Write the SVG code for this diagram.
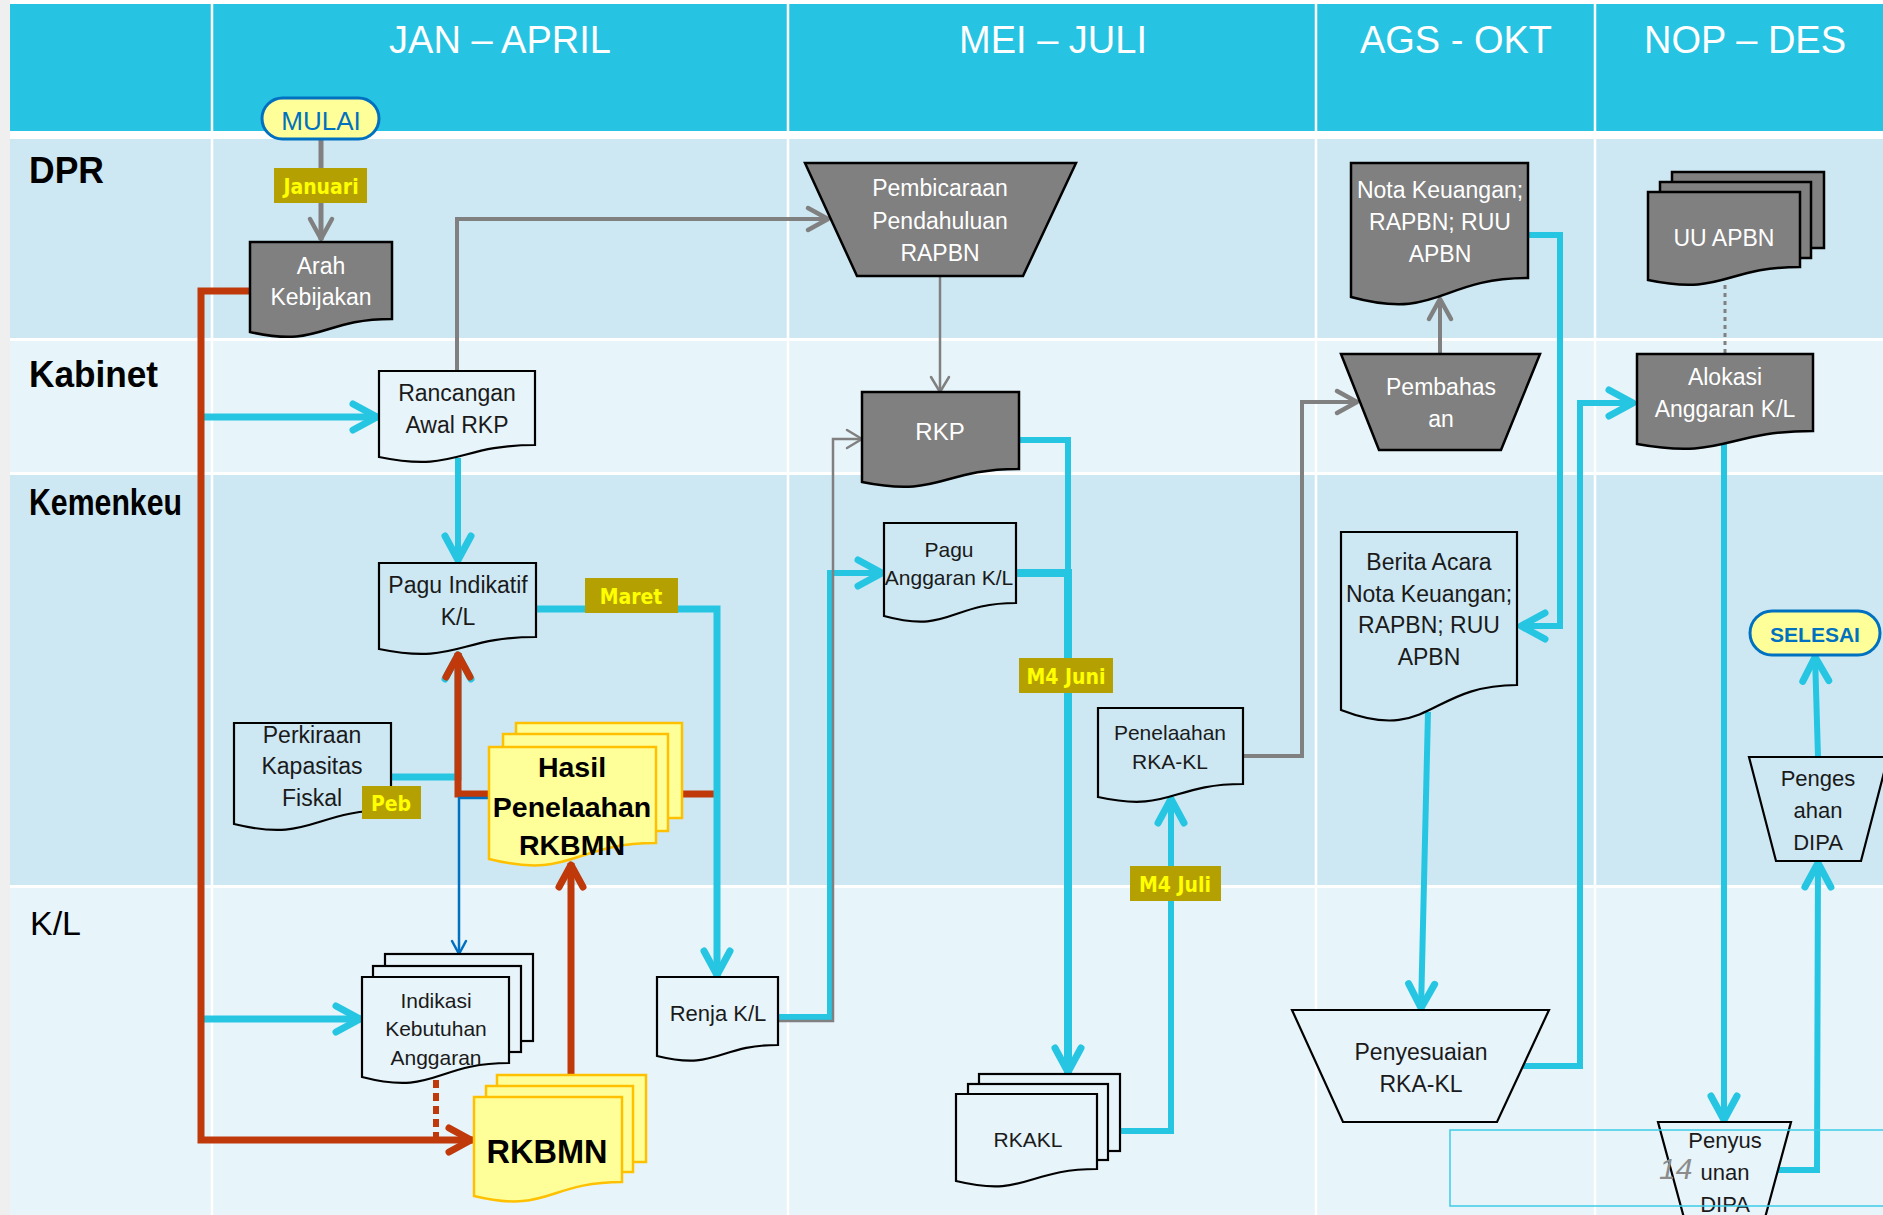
<svg xmlns="http://www.w3.org/2000/svg" width="1883" height="1215" viewBox="0 0 1883 1215">
<style>
.t{font-family:"Liberation Sans",Arial,sans-serif;font-size:23px;fill:#1a1a1a;text-anchor:middle}
.w{fill:#ffffff}
.s21{font-size:21px}
.s22{font-size:22px}
.hdr{font-family:"Liberation Sans",Arial,sans-serif;font-size:38px;fill:#ffffff;text-anchor:middle}
.row{font-family:"Liberation Sans",Arial,sans-serif;font-size:36px;font-weight:bold;fill:#000}
.lb{font-family:"Liberation Sans Narrow","DejaVu Sans Condensed","Liberation Sans",sans-serif;font-size:21px;font-weight:bold;fill:#FFFF00;text-anchor:middle}
.lbox{fill:#B4A000}
.doc{stroke:#000;stroke-width:2.2}
.gry{fill:#808080;stroke:#000;stroke-width:2.5}
.yel{fill:#FFFF99;stroke:#FFC000;stroke-width:2.5}
.fa{fill:#CDE8F3}
.fb{fill:#E7F4FA}
.cy{fill:none;stroke:#26C6E3;stroke-width:6}
.rd{fill:none;stroke:#C0390B;stroke-width:7}
.gl{fill:none;stroke:#808080;stroke-width:4}
.gt{fill:none;stroke:#808080;stroke-width:2.5}
.term{fill:#FFFF99;stroke:#0070C0;stroke-width:3}
.bt{font-family:"Liberation Sans Narrow","Liberation Sans",sans-serif;fill:#0070C0;text-anchor:middle}
</style>
<defs>
<marker id="ac" markerUnits="userSpaceOnUse" viewBox="-30 -20 40 40" markerWidth="40" markerHeight="40" refX="0" refY="0" orient="auto" style="overflow:visible"><path d="M-26,-13 L-2,0 L-26,13" fill="none" stroke="#26C6E3" stroke-width="7" stroke-linecap="round" stroke-linejoin="round"/></marker>
<marker id="ar" markerUnits="userSpaceOnUse" viewBox="-30 -20 40 40" markerWidth="40" markerHeight="40" refX="0" refY="0" orient="auto" style="overflow:visible"><path d="M-24,-12 L-2,0 L-24,12" fill="none" stroke="#C0390B" stroke-width="7" stroke-linecap="round" stroke-linejoin="round"/></marker>
<marker id="ag" markerUnits="userSpaceOnUse" viewBox="-30 -20 40 40" markerWidth="40" markerHeight="40" refX="0" refY="0" orient="auto" style="overflow:visible"><path d="M-21,-11 L-1,0 L-21,11" fill="none" stroke="#808080" stroke-width="4.5" stroke-linecap="round" stroke-linejoin="round"/></marker>
<marker id="agt" markerUnits="userSpaceOnUse" viewBox="-30 -20 40 40" markerWidth="40" markerHeight="40" refX="0" refY="0" orient="auto" style="overflow:visible"><path d="M-15,-9 L0,0 L-15,9" fill="none" stroke="#808080" stroke-width="2.5" stroke-linecap="round" stroke-linejoin="round"/></marker>
<marker id="ab" markerUnits="userSpaceOnUse" viewBox="-30 -20 40 40" markerWidth="40" markerHeight="40" refX="0" refY="0" orient="auto" style="overflow:visible"><path d="M-13,-7 L0,0 L-13,7" fill="none" stroke="#0070C0" stroke-width="2.5" stroke-linecap="round" stroke-linejoin="round"/></marker>
</defs>

<g id="lanes">
<rect x="0" y="0" width="1883" height="1215" fill="#ffffff"/>
<rect x="0" y="0" width="10" height="1215" fill="#EFEFEF"/>
<rect x="10" y="4" width="1873" height="127" fill="#26C4E2"/>
<rect x="10" y="139" width="1873" height="199" fill="#CDE8F3"/>
<rect x="10" y="341" width="1873" height="131" fill="#E7F4FA"/>
<rect x="10" y="475" width="1873" height="410" fill="#CDE8F3"/>
<rect x="10" y="888" width="1873" height="327" fill="#E7F4FA"/>
<g stroke="#ffffff" stroke-width="2.5">
<line x1="212" y1="4" x2="212" y2="1215"/>
<line x1="788" y1="4" x2="788" y2="1215"/>
<line x1="1316" y1="4" x2="1316" y2="1215"/>
<line x1="1595" y1="4" x2="1595" y2="1215"/>
</g>
<text class="hdr" x="500" y="53">JAN – APRIL</text>
<text class="hdr" x="1053" y="53">MEI – JULI</text>
<text class="hdr" x="1456" y="53">AGS - OKT</text>
<text class="hdr" x="1745" y="53">NOP – DES</text>
<text class="row" x="29" y="183" textLength="75" lengthAdjust="spacingAndGlyphs">DPR</text>
<text class="row" x="29" y="387" textLength="129" lengthAdjust="spacingAndGlyphs">Kabinet</text>
<text class="row" x="29" y="515" textLength="153" lengthAdjust="spacingAndGlyphs">Kemenkeu</text>
<text class="row" x="30" y="935" style="font-weight:normal;font-size:34px">K/L</text>
</g>

<g id="connectors">
<path class="gl" d="M321,139 V240" style="stroke-width:5" marker-end="url(#ag)"/>
<path class="cy" d="M201,417 H379" style="stroke-width:7" marker-end="url(#ac)"/>
<path class="cy" d="M201,1019 H362" style="stroke-width:7" marker-end="url(#ac)"/>
<path class="rd" d="M250,291 H201 V1140 H473" marker-end="url(#ar)"/>
<path class="gl" d="M457,371 V219 H829" marker-end="url(#ag)"/>
<path class="cy" d="M458,458 V562" marker-end="url(#ac)"/>
<path class="cy" d="M391,777 H458 V653" style="stroke-width:7" marker-end="url(#ac)"/>
<path class="rd" d="M714,794 H458 V653" marker-end="url(#ar)"/>
<path d="M490,798 H459 V954" fill="none" stroke="#0070C0" stroke-width="2.5" marker-end="url(#ab)"/>
<path class="cy" d="M536,609 H717 V977" style="stroke-width:7" marker-end="url(#ac)"/>
<path class="rd" d="M571,1075 V863" marker-end="url(#ar)"/>
<path class="rd" d="M436,1080 V1140" style="stroke-width:6;stroke-dasharray:8 5"/>
<path class="cy" d="M778,1017 H830 V573 H884" marker-end="url(#ac)"/>
<path class="gt" d="M778,1021 H833 V439 H862" marker-end="url(#agt)"/>
<path class="gt" d="M940,276 V392" marker-end="url(#agt)"/>
<path class="cy" d="M1019,440 H1068 V573"/>
<path class="cy" d="M1016,573 H1068 V1074" style="stroke-width:8" marker-end="url(#ac)"/>
<path class="cy" d="M1120,1131 H1171 V797" marker-end="url(#ac)"/>
<path class="gl" d="M1243,756 H1302 V402 H1358" marker-end="url(#ag)"/>
<path class="gl" d="M1440,354 V298" marker-end="url(#ag)"/>
<path class="cy" d="M1528,235 H1560 V626 H1519" marker-end="url(#ac)"/>
<path class="cy" d="M1428,712 L1421,1010" marker-end="url(#ac)"/>
<path class="cy" d="M1523,1066 H1580 V403 H1635" marker-end="url(#ac)"/>
<path d="M1725,285 V354" fill="none" stroke="#808080" stroke-width="3" stroke-dasharray="4 4"/>
<path class="cy" d="M1724,444 V1122" marker-end="url(#ac)"/>
<path class="cy" d="M1777,1170 H1817 L1818,861" marker-end="url(#ac)"/>
<path class="cy" d="M1818,757 L1815,655" marker-end="url(#ac)"/>
</g>

<g id="labels">
<rect class="lbox" x="274" y="168" width="93" height="35"/><text class="lb" x="321" y="194">Januari</text>
<rect class="lbox" x="585" y="578" width="93" height="35"/><text class="lb" x="631" y="604">Maret</text>
<rect class="lbox" x="1019" y="658" width="94" height="35"/><text class="lb" x="1066" y="684">M4 Juni</text>
<rect class="lbox" x="1130" y="866" width="91" height="35"/><text class="lb" x="1175" y="892">M4 Juli</text>
</g>

<g id="mulai">
<rect class="term" x="262" y="98" width="117" height="41" rx="20.5"/>
<text class="bt" x="321" y="130" style="font-family:'Liberation Sans',sans-serif;font-size:26px">MULAI</text>
</g>
<g id="arah-kebijakan">
<path class="gry" d="M250,242 H392 V319 C321,319 321,348 250,332 Z"/>
<text class="t w" x="321" y="274">Arah</text><text class="t w" x="321" y="305">Kebijakan</text>
</g>
<g id="rancangan-awal-rkp">
<path class="doc fb" d="M379,371 H535 V445 C457,445 457,473 379,457 Z"/>
<text class="t" x="457" y="401">Rancangan</text><text class="t" x="457" y="433">Awal RKP</text>
</g>
<g id="pagu-indikatif">
<path class="doc fa" d="M379,563 H536 V637 C457.5,637 457.5,665 379,649 Z"/>
<text class="t" x="458" y="593">Pagu Indikatif</text><text class="t" x="458" y="625">K/L</text>
</g>
<g id="perkiraan-kapasitas-fiskal">
<path class="doc fa" d="M234,723 H391 V810 C312.5,810 312.5,843 234,824 Z"/>
<text class="t" x="312" y="743">Perkiraan</text><text class="t" x="312" y="774">Kapasitas</text><text class="t" x="312" y="806">Fiskal</text>
<rect class="lbox" x="362" y="786" width="59" height="33"/><text class="lb" x="391" y="811">Peb</text>
</g>
<g id="hasil-penelaahan-rkbmn">
<rect class="yel" x="516" y="723" width="166" height="95"/>
<rect class="yel" x="503" y="734" width="165" height="97"/>
<path class="yel" d="M489,747 H656 V843 C572.5,843 572.5,880 489,859 Z"/>
<g style="font-family:'Liberation Sans',Arial,sans-serif;font-weight:bold;font-size:28.5px;fill:#000;text-anchor:middle">
<text x="572" y="777">Hasil</text><text x="572" y="817">Penelaahan</text><text x="572" y="855">RKBMN</text>
</g>
</g>
<g id="indikasi-kebutuhan-anggaran">
<rect class="doc fb" x="385" y="954" width="148" height="87"/>
<rect class="doc fb" x="373" y="966" width="148" height="86"/>
<path class="doc fb" d="M362,977 H509 V1063 C435.5,1063 435.5,1096 362,1077 Z"/>
<text class="t s21" x="436" y="1008">Indikasi</text><text class="t s21" x="436" y="1036">Kebutuhan</text><text class="t s21" x="436" y="1065">Anggaran</text>
</g>
<g id="rkbmn">
<rect class="yel" x="497" y="1075" width="149" height="87"/>
<rect class="yel" x="486" y="1086" width="147" height="86"/>
<path class="yel" d="M474,1097 H622 V1182 C548,1182 548,1214 474,1196 Z"/>
<text x="547" y="1163" style="font-family:'Liberation Sans',Arial,sans-serif;font-weight:bold;font-size:32.5px;fill:#000;text-anchor:middle">RKBMN</text>
</g>
<g id="renja-kl">
<path class="doc fb" d="M657,977 H778 V1045 C717.5,1045 717.5,1071 657,1056 Z"/>
<text class="t s22" x="718" y="1021">Renja K/L</text>
</g>
<g id="pembicaraan-pendahuluan">
<path class="gry" d="M805,163 H1076 L1023,276 H857 Z"/>
<text class="t w" x="940" y="196">Pembicaraan</text><text class="t w" x="940" y="229">Pendahuluan</text><text class="t w" x="940" y="261">RAPBN</text>
</g>
<g id="rkp">
<path class="gry" d="M862,392 H1019 V469 C940.5,469 940.5,498 862,482 Z"/>
<text class="t w" x="940" y="440" style="font-size:24px">RKP</text>
</g>
<g id="pagu-anggaran">
<path class="doc fa" d="M884,523 H1016 V603 C950,603 950,634 884,616 Z"/>
<text class="t s21" x="949" y="557">Pagu</text><text class="t s21" x="949" y="585">Anggaran K/L</text>
</g>
<g id="penelaahan-rka-kl">
<path class="doc fa" d="M1098,708 H1243 V784 C1170.5,784 1170.5,813 1098,797 Z"/>
<text class="t s21" x="1170" y="740">Penelaahan</text><text class="t s21" x="1170" y="769">RKA-KL</text>
</g>
<g id="rkakl">
<rect class="doc fb" x="979" y="1074" width="141" height="77"/>
<rect class="doc fb" x="968" y="1084" width="140" height="76"/>
<path class="doc fb" d="M956,1094 H1097 V1169 C1026.5,1169 1026.5,1198 956,1181 Z"/>
<text class="t s21" x="1028" y="1147">RKAKL</text>
</g>
<g id="nota-keuangan">
<path class="gry" d="M1351,163 H1528 V278 C1439.5,278 1439.5,321 1351,297 Z"/>
<text class="t w" x="1440" y="198">Nota Keuangan;</text><text class="t w" x="1440" y="230">RAPBN; RUU</text><text class="t w" x="1440" y="262">APBN</text>
</g>
<g id="pembahasan">
<path class="gry" d="M1341,354 H1540 L1501,450 H1379 Z"/>
<text class="t w" x="1441" y="395">Pembahas</text><text class="t w" x="1441" y="427">an</text>
</g>
<g id="berita-acara">
<path class="doc fa" d="M1341,532 H1517 V685 C1429,685 1429,744 1341,710 Z"/>
<text class="t" x="1429" y="570">Berita Acara</text><text class="t" x="1429" y="602">Nota Keuangan;</text><text class="t" x="1429" y="633">RAPBN; RUU</text><text class="t" x="1429" y="665">APBN</text>
</g>
<g id="penyesuaian-rka-kl">
<path class="doc fb" d="M1292,1010 H1549 L1497,1122 H1343 Z"/>
<text class="t" x="1421" y="1060">Penyesuaian</text><text class="t" x="1421" y="1092">RKA-KL</text>
</g>
<g id="uu-apbn">
<rect class="gry" x="1672" y="172" width="152" height="76"/>
<rect class="gry" x="1660" y="182" width="151" height="76"/>
<path class="gry" d="M1648,192 H1800 V267 C1724,267 1724,296 1648,280 Z"/>
<text class="t w" x="1724" y="246">UU APBN</text>
</g>
<g id="alokasi-anggaran">
<path class="gry" d="M1637,354 H1813 V431 C1725,431 1725,460 1637,444 Z"/>
<text class="t w" x="1725" y="385">Alokasi</text><text class="t w" x="1725" y="417">Anggaran K/L</text>
</g>
<g id="selesai">
<rect class="term" x="1750" y="611" width="130" height="44" rx="22"/>
<text class="bt" x="1815" y="642" style="font-size:21px;font-weight:bold">SELESAI</text>
</g>
<g id="pengesahan-dipa">
<path class="doc fa" d="M1749,757 H1888 L1861,861 H1776 Z"/>
<text class="t s22" x="1818" y="786">Penges</text><text class="t s22" x="1818" y="818">ahan</text><text class="t s22" x="1818" y="850">DIPA</text>
</g>
<g id="penyusunan-dipa">
<path class="doc fb" d="M1658,1122 H1791 L1759,1240 H1690 Z"/>
<text class="t s22" x="1725" y="1148">Penyus</text><text class="t s22" x="1725" y="1180">unan</text><text class="t s22" x="1725" y="1212">DIPA</text>
</g>
<g id="slide-number">
<rect x="1450" y="1130" width="440" height="76" fill="none" stroke="#3CCBE8" stroke-width="1.5"/>
<text x="1659" y="1179" style="font-family:'Liberation Sans',Arial,sans-serif;font-style:italic;font-size:30px;fill:#8C8C8C">14</text>
</g>
</svg>
